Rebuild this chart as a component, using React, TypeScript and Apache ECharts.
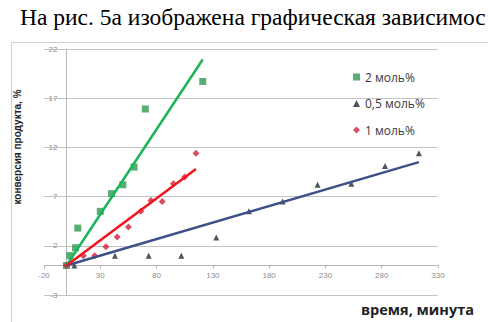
import React, { useEffect, useRef } from "react";
import * as echarts from "echarts";

// Reaction time, minutes, and product conversion, %, for each catalyst loading
const timeCat2 = [0, 3, 8, 10, 30, 40, 50, 60, 70, 121];
const convCat2 = [0, 1, 1.8, 3.8, 5.5, 7.3, 8.2, 10, 15.9, 18.7];

const timeCat05 = [7, 43, 73, 102, 133, 162, 192, 223, 253, 283, 313];
const convCat05 = [0, 1, 1, 1, 2.85, 5.5, 6.5, 8.2, 8.3, 10.1, 11.4];

const timeCat1 = [0, 15, 25, 35, 45, 55, 66, 75, 85, 95, 105, 115];
const convCat1 = [0, 1, 1, 1.9, 2.9, 3.9, 5.5, 6.6, 6.5, 8.3, 9.0, 11.4];

const seriesNames = ["2 моль%", "0,5 моль%", "1 моль%"];

const captionText = "На рис. 5а изображена графическая зависимос";
const yAxisTitle = "конверсия продукта, %";
const xAxisTitle = "время, минута";

const X_MIN = -20;
const X_MAX = 330;
const Y_MIN = -3;
const Y_MAX = 22;

const pairs = (xs: number[], ys: number[]) => xs.map((x, i) => [x, ys[i]]);

// Least-squares line through the origin, drawn from 0 to the last time point
const trendLine = (xs: number[], ys: number[]) => {
  let sxy = 0;
  let sxx = 0;
  xs.forEach((x, i) => {
    sxy += x * ys[i];
    sxx += x * x;
  });
  const k = sxy / sxx;
  const xEnd = Math.max(...xs);
  return [
    [0, 0],
    [xEnd, k * xEnd],
  ];
};

export default function App() {
  const ref = useRef<HTMLDivElement>(null);

  useEffect(() => {
    if (!ref.current) return;
    const chart = echarts.init(ref.current, null, { renderer: "svg" });

    const green = "#2c9a4f";
    const greenLine = "#1cb45a";
    const red = "#d2203c";
    const redLine = "#f2141c";
    const blue = "#1f2a30";
    const blueLine = "#3d5088";

    const gridLeft = 44;
    const gridRight = 50;
    const gridTop = 49;
    const gridBottom = 27;
    const plotW = 488 - gridLeft - gridRight;
    const plotH = 322 - gridTop - gridBottom;
    // Both axes cross at zero; shift each axis (line, ticks and labels) there
    const xAxisShift = (-Y_MIN / (Y_MAX - Y_MIN)) * plotH;
    const yAxisShift = (-X_MIN / (X_MAX - X_MIN)) * plotW;

    chart.setOption({
      animation: false,
      backgroundColor: "#ffffff",
      grid: {
        left: gridLeft,
        right: gridRight,
        top: gridTop,
        bottom: gridBottom,
        containLabel: false,
        outerBoundsMode: "none",
      },
      legend: {
        data: seriesNames,
        orient: "vertical",
        left: 348,
        top: 66,
        itemGap: 14.5,
        itemWidth: 7,
        itemHeight: 7,
        textStyle: {
          fontFamily: "Open Sans",
          fontSize: 12,
          color: "#3a3a3a",
        },
        selectedMode: false,
      },
      xAxis: {
        type: "value",
        min: X_MIN,
        max: X_MAX,
        interval: 50,
        offset: -xAxisShift,
        axisLine: { onZero: false, lineStyle: { color: "#b8b8b8", width: 1 } },
        axisTick: { show: true, length: 3, inside: false, lineStyle: { color: "#b8b8b8" } },
        axisLabel: {
          showMinLabel: true,
          showMaxLabel: true,
          fontSize: 8,
          color: "#8e8e8e",
          fontFamily: "Liberation Sans",
          margin: 6,
        },
        splitLine: { show: false },
      },
      yAxis: {
        type: "value",
        min: Y_MIN,
        max: Y_MAX,
        interval: 5,
        offset: -yAxisShift,
        axisLine: { onZero: false, lineStyle: { color: "#b8b8b8", width: 1 } },
        axisTick: { show: false },
        axisLabel: {
          showMinLabel: true,
          showMaxLabel: true,
          fontSize: 8,
          color: "#8e8e8e",
          fontFamily: "Liberation Sans",
          margin: 9,
        },
        splitLine: { show: true, lineStyle: { color: "#c4c4c4", width: 1 } },
      },
      series: [
        {
          name: seriesNames[0],
          type: "scatter",
          symbol: "rect",
          symbolSize: 7,
          itemStyle: { color: green },
          data: pairs(timeCat2, convCat2),
          z: 3,
        },
        {
          name: seriesNames[1],
          type: "scatter",
          symbol: "triangle",
          symbolSize: 6,
          itemStyle: { color: blue },
          data: pairs(timeCat05, convCat05),
          z: 3,
        },
        {
          name: seriesNames[2],
          type: "scatter",
          symbol: "diamond",
          symbolSize: 7,
          itemStyle: { color: red },
          data: pairs(timeCat1, convCat1),
          z: 3,
        },
        {
          name: "trend-2",
          type: "line",
          showSymbol: false,
          symbol: "none",
          lineStyle: { color: greenLine, width: 2.5 },
          data: trendLine(timeCat2, convCat2),
          z: 4,
        },
        {
          name: "trend-05",
          type: "line",
          showSymbol: false,
          symbol: "none",
          lineStyle: { color: blueLine, width: 2.5 },
          data: trendLine(timeCat05, convCat05),
          z: 4,
        },
        {
          name: "trend-1",
          type: "line",
          showSymbol: false,
          symbol: "none",
          lineStyle: { color: redLine, width: 2.5 },
          data: trendLine(timeCat1, convCat1),
          z: 4,
        },
      ],
      graphic: [
        {
          type: "rect",
          left: 9,
          top: 40,
          shape: { width: 520, height: 320 },
          style: { fill: "none", stroke: "#d0d0d0", lineWidth: 1 },
          silent: true,
          z: -1,
        },
        {
          type: "text",
          left: 20,
          top: 5,
          style: {
            text: captionText,
            fill: "#000000",
            font: "23.5px 'Liberation Serif'",
          },
        },
        {
          type: "text",
          x: 17,
          y: 147,
          rotation: Math.PI / 2,
          style: {
            text: yAxisTitle,
            fill: "#222222",
            font: "bold 10px 'Liberation Sans'",
            align: "center",
            verticalAlign: "middle",
          },
        },
        {
          type: "text",
          left: 361,
          top: 302,
          style: {
            text: xAxisTitle,
            fill: "#222222",
            font: "bold 14.5px 'Open Sans'",
          },
        },
      ],
    });

    return () => chart.dispose();
  }, []);

  return (
    <div
      ref={ref}
      style={{ position: "fixed", left: 0, top: 0, width: 488, height: 322 }}
    />
  );
}
